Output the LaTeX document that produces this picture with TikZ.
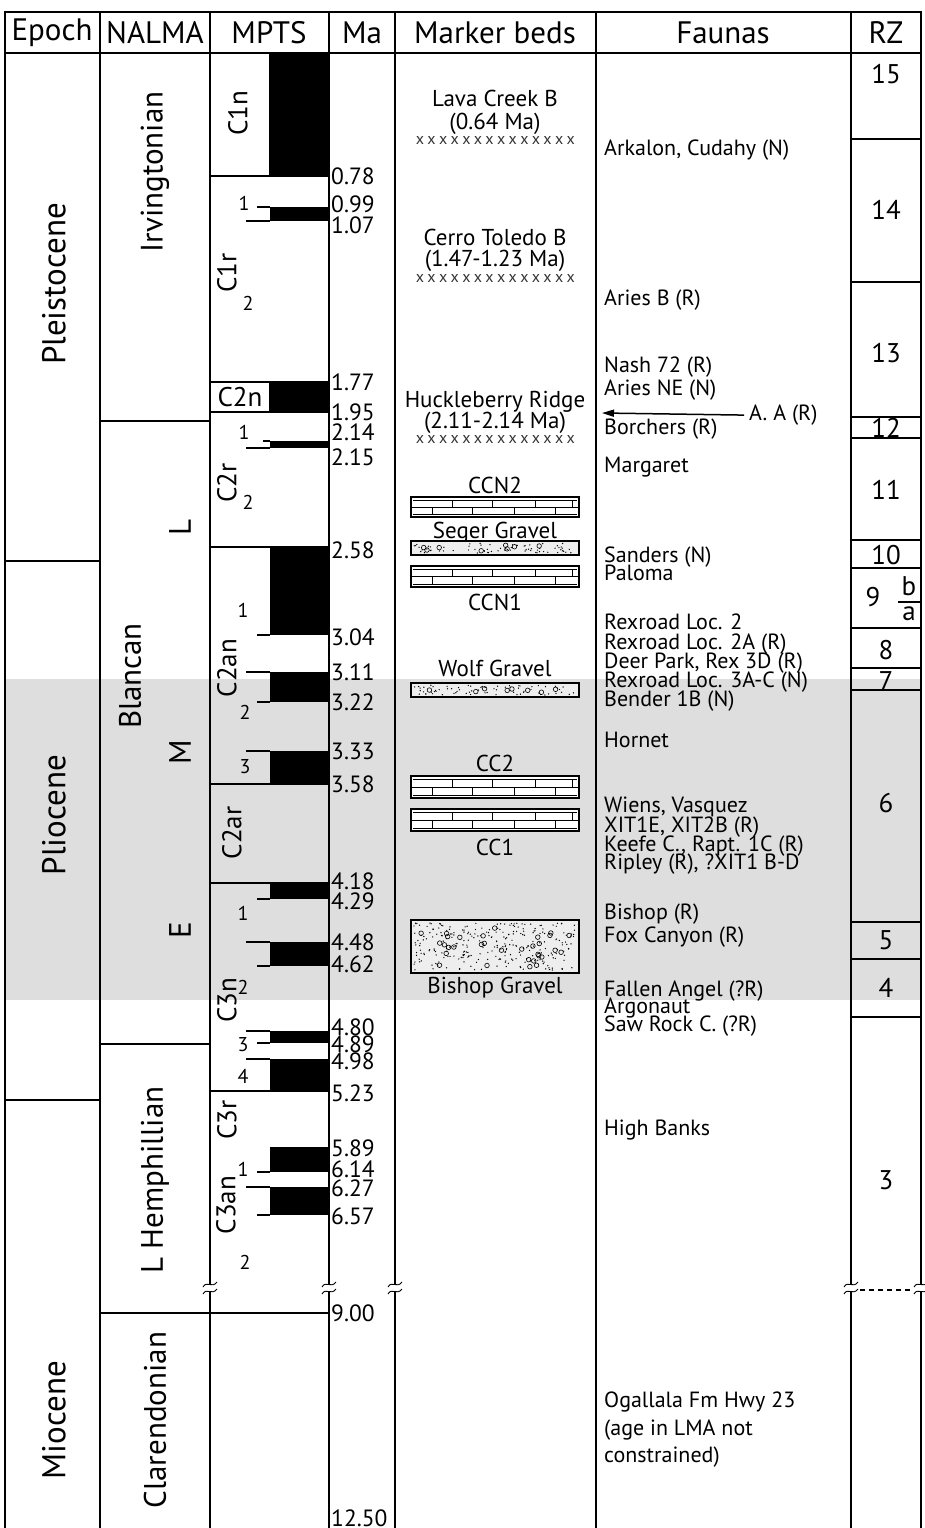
\documentclass[tikz,border=0pt]{standalone}
\usepackage{fontspec}
\setmainfont{PT Sans}
\usetikzlibrary{arrows.meta}
\definecolor{band}{RGB}{222,222,222}
\definecolor{grav}{RGB}{238,238,238}
\newcommand{\myfs}[1]{\fontsize{#1}{#1}\selectfont}
\newcommand{\brickbar}[2]{%
  \fill[white] (411,#1) rectangle (579,#2);
  \draw[line width=0.9pt] (411,{(#1+#2)/2}) -- (579,{(#1+#2)/2});
  \draw[line width=0.8pt] (413,{#1+3}) -- (577,{#1+3});
  \draw[line width=0.8pt] (413,{#2-3}) -- (577,{#2-3});
  \foreach \xx in {452,492,535,572} \draw[line width=0.9pt] (\xx,{#1+3}) -- (\xx,{(#1+#2)/2});
  \foreach \xx in {432,472,514,555} \draw[line width=0.9pt] (\xx,{(#1+#2)/2}) -- (\xx,{#2-3});
  \draw[line width=1.6pt] (411,#1) rectangle (579,#2);}
\newcommand{\gravelbar}[3]{%
  \fill[grav] (411,#1) rectangle (579,#2);
  \pgfmathsetseed{#3}
  \foreach \k in {1,...,70} {\pgfmathsetmacro{\px}{414+rnd*162}\pgfmathsetmacro{\py}{#1+2+rnd*(#2-#1-4)}\fill (\px,\py) circle (0.7);}
  \foreach \k in {1,...,8} {\pgfmathsetmacro{\px}{417+rnd*156}\pgfmathsetmacro{\py}{#1+4+rnd*(#2-#1-8)}\draw[line width=0.6pt] (\px,\py) circle (2.3);}
  \draw[line width=1.6pt] (411,#1) rectangle (579,#2);}
\newcommand{\brk}[2]{%
  \fill[white] ({#1-3},{#2-3}) rectangle ({#1+3},{#2+3});
  \draw[line width=0.9pt] ({#1-7},{#2-1}) .. controls ({#1-3},{#2-8}) and ({#1+2},{#2+1}) .. ({#1+7},{#2-6});
  \draw[line width=0.9pt] ({#1-7},{#2+6}) .. controls ({#1-3},{#2-1}) and ({#1+2},{#2+8}) .. ({#1+7},{#2+1});}
\begin{document}
\begin{tikzpicture}[x=1pt,y=-1pt,
  hdr/.style={font=\myfs{31}, inner sep=0pt},
  big/.style={font=\myfs{33}, rotate=90, inner sep=0pt},
  nal/.style={font=\myfs{31}, rotate=90, inner sep=0pt},
  chr/.style={font=\myfs{27}, rotate=90, inner sep=0pt},
  sub/.style={font=\myfs{20}, inner sep=0pt},
  ma/.style={font=\myfs{23.5}, anchor=base west, yshift=-8pt, inner sep=0pt},
  fau/.style={font=\myfs{22}, anchor=base west, yshift=-7.5pt, inner sep=0pt},
  mk/.style={font=\myfs{23}, anchor=base, yshift=-8pt, inner sep=0pt},
  rz/.style={font=\myfs{27}, inner sep=0pt},
  xm/.style={font=\myfs{16}, inner sep=0pt, text=black!80},
  frame/.style={line width=2pt},
  tk/.style={line width=1.5pt}]
\useasboundingbox (0,0) rectangle (924,1528);
% grey band
\fill[band] (5,679) rectangle (921,1000);
% black bars
\foreach \a/\b in {53/176,207/221,382/412,441/448,547/635,672/702,751/784,883/899,942/966,1031/1043,1059/1091,1147/1172,1187/1215}
  \fill (270,\a) rectangle (329,\b);
% ticks
\foreach \xs/\yy in {257/207,246/221,263/441,246/448,257/635,246/672,257/702,246/751,257/899,246/942,257/966,246/1031,257/1043,246/1059,257/1172,246/1187,257/1215}
  \draw[tk] (\xs,\yy) -- (270,\yy);
% frame and columns
\draw[frame] (5,1528) -- (5,12) -- (921,12) -- (921,1528);
\draw[frame] (5,53) -- (921,53);
\foreach \xx in {100,210,329,395,596,851}
  \draw[frame] (\xx,12) -- (\xx,1528);
% epoch lines
\draw[frame] (5,561) -- (100,561);
\draw[frame] (5,1100) -- (100,1100);
% nalma lines
\draw[frame] (100,421) -- (210,421);
\draw[frame] (100,1044) -- (210,1044);
\draw[frame] (100,1313) -- (329,1313);
% mpts lines
\foreach \yy in {176,382,412,547,784,883,1091}
  \draw[frame] (210,\yy) -- (329,\yy);
\draw[frame] (270,53) -- (270,176);
\draw[frame] (270,382) -- (270,412);
% rz lines
\foreach \yy in {139,282,417,438,540,568,628,668,690,922,959,1017}
  \draw[frame] (851,\yy) -- (921,\yy);
\draw[line width=1.5pt] (898,602) -- (920,602);
% breaks
\foreach \xx in {210,329,395,851,921} \brk{\xx}{1288};
\draw[line width=1.5pt, dash pattern=on 5pt off 4pt] (860,1290) -- (912,1290);
% headers
\node[hdr] (hEpoch) at (52,33) {Epoch};
\node[hdr] (hNALMA) at (155,33) {NALMA};
\node[hdr] (hMPTS) at (269,33) {MPTS};
\node[hdr] (hMa) at (362,33) {Ma};
\node[hdr] (hMarker) at (495,33) {Marker beds};
\node[hdr] (hFaunas) at (723,33) {Faunas};
\node[hdr] (hRZ) at (886,33) {RZ};
% epochs
\node[big] (ePleist) at (54,284) {Pleistocene};
\node[big] (ePlio) at (54,815) {Pliocene};
\node[big] (eMio) at (54,1420) {Miocene};
% NALMA
\node[nal] (nIrv) at (155,172) {Irvingtonian};
\node[nal] (nL) at (180,527) {L};
\node[nal] (nBl) at (130,676) {Blancan};
\node[nal] (nM) at (180,752) {M};
\node[nal] (nE) at (180,930) {E};
\node[nal] (nHem) at (155,1180) {L Hemphillian};
\node[nal] (nCla) at (155,1420) {Clarendonian};
% chrons
\node[chr] (cC1n) at (238,113) {C1n};
\node[chr] (cC1r) at (227,273) {C1r};
\node[font=\myfs{27}, inner sep=0pt] (cC2n) at (240,397) {C2n};
\node[chr] (cC2r) at (227,483) {C2r};
\node[chr] (cC2an) at (227,668) {C2an};
\node[chr] (cC2ar) at (232,833) {C2ar};
\node[chr] (cC3n) at (227,1000) {C3n};
\node[chr] (cC3r) at (227,1120) {C3r};
\node[chr] (cC3an) at (226,1205) {C3an};
% subchron numbers
\node[sub] (s1a) at (244,203) {1};
\node[sub] (s1b) at (248,303) {2};
\node[sub] (s2a) at (244,432) {1};
\node[sub] (s2b) at (248,502) {2};
\node[sub] (s3a) at (243,610) {1};
\node[sub] (s3b) at (245,712) {2};
\node[sub] (s3c) at (245,767) {3};
\node[sub] (s4a) at (243,913) {1};
\node[sub] (s4b) at (243,987) {2};
\node[sub] (s4c) at (243,1045) {3};
\node[sub] (s4d) at (243,1076) {4};
\node[sub] (s5a) at (243,1169) {1};
\node[sub] (s5b) at (245,1262) {2};
% Ma labels
\foreach \v/\yy [count=\i] in {0.78/176,0.99/204,1.07/225,1.77/382,1.95/412,2.14/432,2.15/457,2.58/550,3.04/637,3.11/672,3.22/702,3.33/751,3.58/784,4.18/881,4.29/901,4.48/942,4.62/964,4.80/1027,4.89/1044,4.98/1061,5.23/1093,5.89/1148,6.14/1169,6.27/1188,6.57/1216,9.00/1313,12.50/1518}
  \node[ma] (ma\i) at (331,\yy) {\v};
% marker beds
\node[mk] (mLC) at (495,98) {Lava Creek B};
\node[mk] (mLCa) at (495,121) {(0.64 Ma)};
\node[mk] (mCT) at (495,237) {Cerro Toledo B};
\node[mk] (mCTa) at (495,258) {(1.47-1.23 Ma)};
\node[mk] (mHR) at (495,399) {Huckleberry Ridge};
\node[mk] (mHRa) at (495,420) {(2.11-2.14 Ma)};
\foreach \yy/\nm in {140/lc,278/ct,439/hr}
  \foreach \i in {0,...,13}
    \node[xm] (x\nm\i) at ({420+\i*11.6},\yy) {x};
\node[mk] (mCCN2) at (495,485) {CCN2};
\brickbar{497}{517}
\node[mk] (mSeg) at (495,530) {Seger Gravel};
\gravelbar{541}{555}{3}
\brickbar{566}{587}
\node[mk] (mCCN1) at (495,602) {CCN1};
\node[mk] (mWolf) at (495,668) {Wolf Gravel};
\gravelbar{683}{697}{7}
\node[mk] (mCC2) at (495,763) {CC2};
\brickbar{776}{798}
\brickbar{809}{831}
\node[mk] (mCC1) at (495,847) {CC1};
\fill[grav] (411,920) rectangle (579,973);
\pgfmathsetseed{11}
\foreach \k in {1,...,280} {\pgfmathsetmacro{\px}{414+rnd*162}\pgfmathsetmacro{\py}{923+rnd*47}\fill (\px,\py) circle (0.7);}
\foreach \k in {1,...,32} {\pgfmathsetmacro{\px}{417+rnd*156}\pgfmathsetmacro{\py}{925+rnd*43}\draw[line width=0.6pt] (\px,\py) circle (2.3);}
\draw[line width=1.6pt] (411,920) rectangle (579,973);
\node[mk] (mBish) at (495,985) {Bishop Gravel};
% faunas
\foreach \t/\yy [count=\i] in {{Arkalon, Cudahy (N)}/148,{Aries B (R)}/298,{Nash 72 (R)}/365,{Aries NE (N)}/388,{Borchers (R)}/427,Margaret/465,{Sanders (N)}/555,Paloma/573,{Rexroad Loc. 2}/622,{Rexroad Loc. 2A (R)}/642,{Deer Park, Rex 3D (R)}/661,{Rexroad Loc. 3A-C (N)}/680,{Bender 1B (N)}/699,Hornet/740,{Wiens, Vasquez}/805,{XIT1E, XIT2B (R)}/825,{Keefe C., Rapt. 1C (R)}/844,{Ripley (R), ?XIT1 B-D}/862,{Bishop (R)}/912,{Fox Canyon (R)}/935,{Fallen Angel (?R)}/989,Argonaut/1006,{Saw Rock C. (?R)}/1024,{High Banks}/1128,{Ogallala Fm Hwy 23}/1400,{(age in LMA not}/1428,{constrained)}/1455}
  \node[fau] (f\i) at (604,\yy) {\t};
\node[fau] (fAA) at (749,413) {A. A (R)};
\coordinate (aaEnd) at (602,413);
\draw[line width=1.5pt, -{Triangle[length=12pt,width=7pt]}] (fAA.west) ++(-5,0) -- (aaEnd);
% RZ
\node[rz] (r15) at (886,74) {15};
\node[rz] (r14) at (886,210) {14};
\node[rz] (r13) at (886,353) {13};
\node[rz] (r12) at (886,428) {12};
\node[rz] (r11) at (886,490) {11};
\node[rz] (r10) at (886,555) {10};
\node[rz] (r9) at (873,597) {9};
\node[rz] (r9b) at (909,586) {b};
\node[rz] (r9a) at (909,614) {a};
\node[rz] (r8) at (886,650) {8};
\node[rz] (r7) at (886,681) {7};
\node[rz] (r6) at (886,803) {6};
\node[rz] (r5) at (886,940) {5};
\node[rz] (r4) at (886,988) {4};
\node[rz] (r3) at (886,1180) {3};
\end{tikzpicture}
\end{document}
